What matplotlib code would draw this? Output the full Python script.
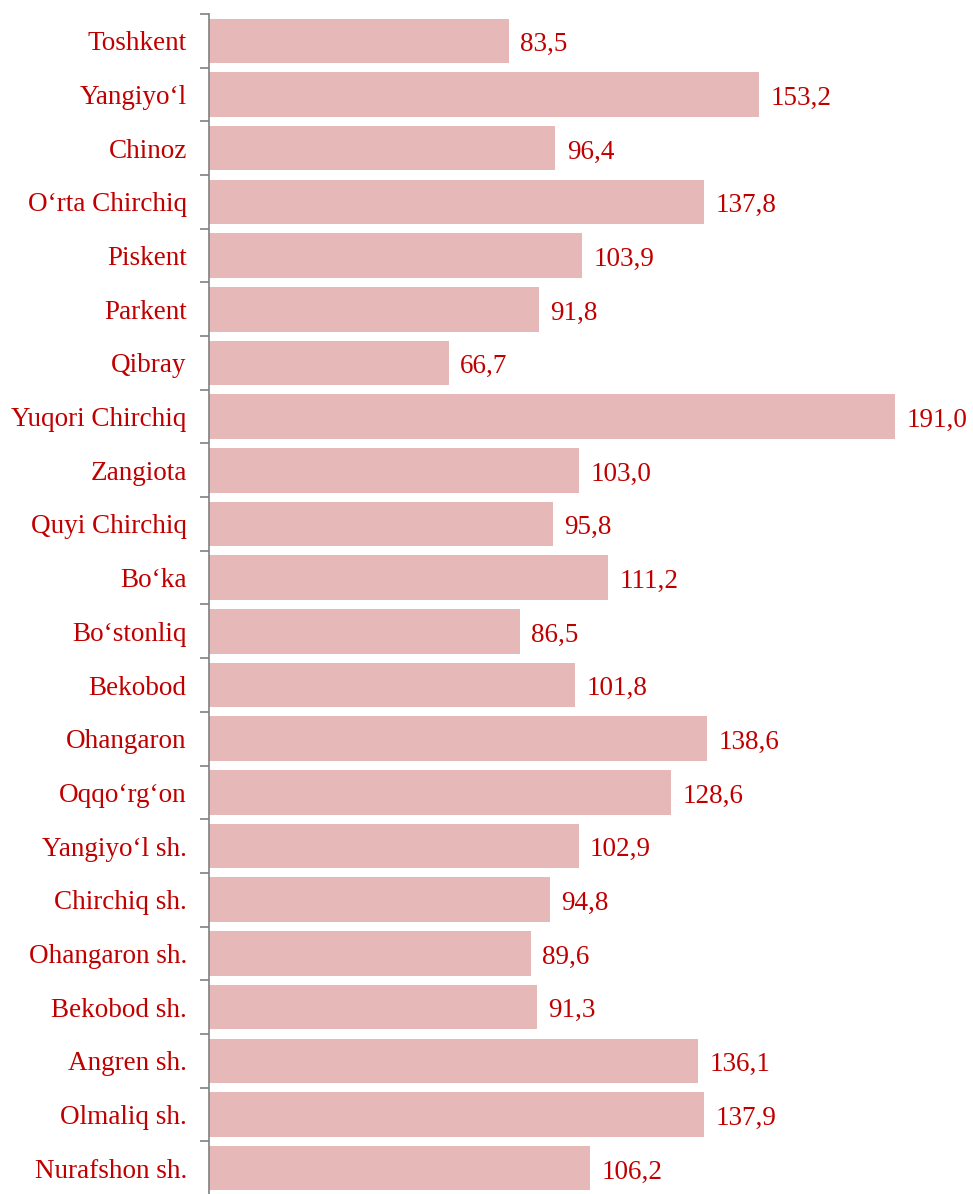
import matplotlib.pyplot as plt
import numpy as np

categories = ["Toshkent", "Yangiyo‘l", "Chinoz", "O‘rta Chirchiq", "Piskent", "Parkent",
              "Qibray", "Yuqori Chirchiq", "Zangiota", "Quyi Chirchiq", "Bo‘ka",
              "Bo‘stonliq", "Bekobod", "Ohangaron", "Oqqo‘rg‘on", "Yangiyo‘l sh.",
              "Chirchiq sh.", "Ohangaron sh.", "Bekobod sh.", "Angren sh.",
              "Olmaliq sh.", "Nurafshon sh."]
values = [83.5, 153.2, 96.4, 137.8, 103.9, 91.8, 66.7, 191.0, 103.0, 95.8, 111.2,
          86.5, 101.8, 138.6, 128.6, 102.9, 94.8, 89.6, 91.3, 136.1, 137.9, 106.2]

text_color = "#C00000"
bar_color = "#E6B9B8"

plt.rcParams['font.family'] = ['Liberation Serif', 'DejaVu Serif']

fig = plt.figure(figsize=(9.73, 11.94), dpi=100)
ax = fig.add_axes([209 / 973, -1 / 1194, 764 / 973, 1181 / 1194])

y = np.arange(len(categories))
ax.barh(y, values, height=0.83, color=bar_color)

# value labels to the right of each bar
for yi, v in zip(y, values):
    ax.text(v + 3.2, yi + 0.07, f"{v:.1f}".replace(".", ","), va="center", ha="left",
            fontsize=19.5, color=text_color)

ax.set_ylim(len(categories) - 0.5, -0.5)
ax.set_xlim(0, 212.7)

ax.set_yticks(y)
ax.set_yticklabels(categories, fontsize=19.5, color=text_color)
ax.tick_params(axis="y", which="major", length=0, pad=16)
ax.set_yticks(np.arange(-0.5, len(categories), 1), minor=True)
ax.tick_params(axis="y", which="minor", length=6.5, width=1.2, color="#808080")

ax.set_xticks([])
for side in ["top", "right", "bottom"]:
    ax.spines[side].set_visible(False)
ax.spines["left"].set_color("#808080")
ax.spines["left"].set_linewidth(1.2)

fig.savefig("out.png", dpi=100)
